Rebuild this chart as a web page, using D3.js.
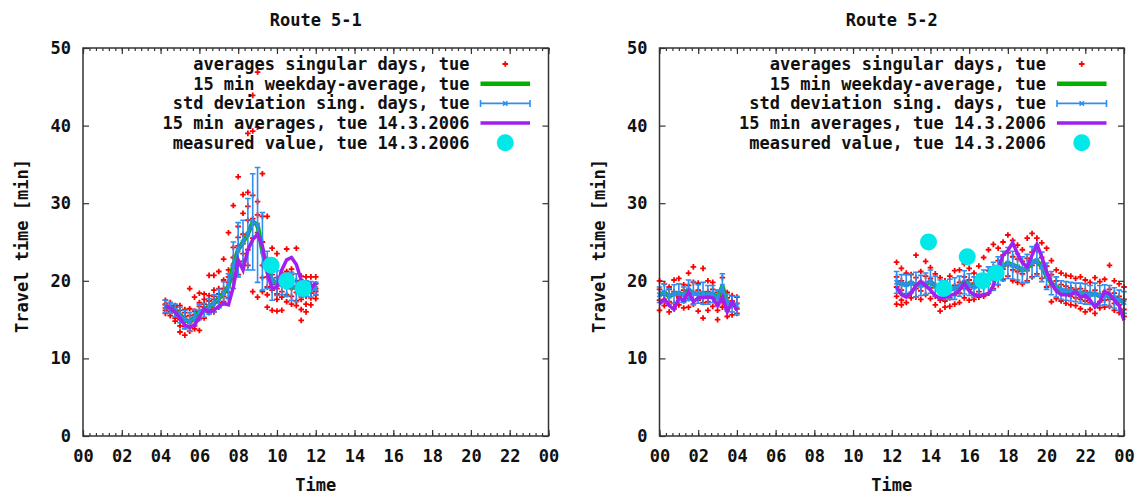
<!DOCTYPE html>
<html>
<head>
<meta charset="utf-8">
<script src="https://cdn.jsdelivr.net/npm/d3@7"></script>
<style>
  body { margin: 0; background: #fff; }
  text { font-family: "DejaVu Sans Mono", "Liberation Mono", monospace; font-weight: bold; fill: #111; }
</style>
</head>
<body>
<script>
let w = 1141;
let h = 495;
let plotTop = 48;
let plotBottom = 436;

// axis ticks
let xTickHours = [0, 2, 4, 6, 8, 10, 12, 14, 16, 18, 20, 22, 24];
let xTickLabels = ["00", "02", "04", "06", "08", "10", "12", "14", "16", "18", "20", "22", "00"];
let yTicks = [0, 10, 20, 30, 40, 50];

let legendLabels = [
  "averages singular days, tue",
  "15 min weekday-average, tue",
  "std deviation sing. days, tue",
  "15 min averages, tue 14.3.2006",
  "measured value, tue 14.3.2006"
];

// ---------- Route 5-1 ----------
let hoursR1 = [4.25, 4.5, 4.75, 5, 5.25, 5.5, 5.75, 6, 6.25, 6.5, 6.75, 7, 7.25, 7.5, 7.75, 8,
  8.25, 8.5, 8.75, 9, 9.25, 9.5, 9.75, 10, 10.25, 10.5, 10.75, 11, 11.25, 11.5, 11.75, 12];
let weekdayAvgR1 = [16.7, 16.5, 16.2, 15.6, 15.0, 14.7, 15.3, 16.0, 16.2, 16.7, 17.1, 17.7, 18.4, 19.3, 22.0, 24.0,
  25.0, 26.0, 27.6, 27.2, 23.8, 21.4, 20.1, 19.7, 19.5, 19.2, 19.3, 19.1, 19.0, 19.0, 18.9, 19.0];
let stdDevR1 = [0.8, 0.7, 0.8, 1.0, 1.2, 1.2, 1.0, 1.0, 0.9, 1.0, 1.1, 1.2, 1.5, 1.6, 3.0, 3.5,
  2.8, 4.6, 6.2, 7.4, 5.0, 2.4, 2.6, 1.6, 1.3, 1.2, 1.8, 1.8, 1.1, 1.0, 1.0, 0.8];
let day14R1 = [16.7, 16.5, 16.0, 15.2, 14.3, 14.0, 14.3, 15.3, 16.4, 16.0, 16.2, 16.7, 17.1, 16.9, 19.2, 22.7,
  21.4, 24.0, 25.3, 26.0, 24.5, 21.0, 19.0, 19.2, 21.4, 22.7, 23.0, 22.1, 20.1, 19.5, 19.0, 19.7];
let singleDaysR1 = [
  [17.5, 16.9, 16.5, 16.2, 15.8, 17.0], [16.0, 16.8, 17.2, 16.3, 15.5, 16.6], [16.6, 15.9, 15.2, 16.8, 14.8, 16.2],
  [13.4, 15.0, 16.2, 15.6, 14.2, 16.8], [13.0, 14.1, 15.4, 16.3, 14.8, 15.9], [19.0, 13.5, 14.6, 15.5, 14.0, 16.4],
  [17.9, 14.2, 15.0, 16.1, 13.8, 15.6], [13.6, 18.4, 15.8, 16.7, 15.1, 17.2], [18.3, 16.0, 17.0, 15.2, 16.6, 17.6],
  [20.7, 16.3, 17.4, 15.9, 16.9, 18.1], [20.7, 17.6, 16.5, 18.0, 16.0, 18.8], [21.2, 17.2, 18.3, 16.6, 17.9, 19.0],
  [22.8, 18.0, 19.0, 17.3, 18.6, 20.1], [26.2, 19.8, 18.5, 20.5, 17.8, 21.4], [29.7, 21.0, 23.0, 20.2, 22.0, 24.3],
  [33.4, 24.5, 22.0, 25.6, 20.8, 27.0], [31.1, 28.7, 23.5, 26.0, 22.5, 24.8], [31.4, 39.0, 27.8, 24.0, 22.0, 29.6],
  [43.9, 39.3, 28.0, 18.6, 25.5, 31.0], [46.9, 39.8, 28.5, 17.9, 26.2, 30.2], [33.8, 18.6, 25.0, 28.3, 22.0, 20.4],
  [28.3, 20.5, 19.2, 22.8, 18.2, 16.6], [24.2, 16.2, 20.8, 19.5, 18.8, 21.6], [23.5, 19.0, 20.4, 18.3, 17.6, 16.1],
  [16.2, 19.8, 21.0, 18.6, 17.9, 20.3], [24.1, 18.2, 19.6, 20.5, 17.3, 21.2], [19.0, 20.8, 18.0, 17.0, 21.5, 19.7],
  [24.2, 18.5, 17.4, 20.0, 19.2, 16.8], [14.9, 19.6, 18.1, 20.6, 17.6, 16.3], [20.5, 18.0, 19.3, 17.0, 16.0, 18.7],
  [20.5, 18.4, 19.5, 17.8, 16.9, 19.1], [20.5, 19.0, 18.2, 19.6, 17.7, 18.6]
];
let measuredR1 = [[9.7, 22.0], [10.5, 20.0], [11.35, 19.0]];

// ---------- Route 5-2 (night part and afternoon part) ----------
let hoursR2a = [0, 0.25, 0.5, 0.75, 1, 1.25, 1.5, 1.75, 2, 2.25, 2.5, 2.75, 3, 3.25, 3.5, 3.75, 4];
let weekdayAvgR2a = [18.2, 18.5, 18.0, 18.3, 18.4, 18.2, 18.8, 18.4, 18.3, 18.4, 18.2, 18.3, 17.8, 19.3, 17.2, 17.0, 16.8];
let stdDevR2a = [1.0, 1.1, 1.0, 1.2, 1.2, 1.0, 1.3, 1.5, 1.2, 1.4, 1.2, 1.1, 1.0, 1.6, 1.1, 1.0, 1.2];
let day14R2a = [17.0, 17.6, 16.8, 16.3, 17.8, 17.5, 18.6, 17.3, 17.8, 17.8, 17.9, 17.8, 16.8, 17.9, 16.0, 17.3, 16.2];
let singleDaysR2a = [
  [20.0, 18.9, 17.5, 16.2], [19.6, 18.2, 16.8, 17.6], [18.9, 17.3, 16.0, 19.2], [20.1, 18.6, 17.1, 16.4],
  [20.3, 18.0, 16.9, 17.8], [19.5, 17.4, 18.8, 16.5], [21.0, 19.4, 17.7, 16.6], [21.8, 18.5, 17.0, 19.8],
  [19.7, 18.8, 16.1, 17.5], [21.6, 18.1, 15.2, 17.2], [20.0, 18.6, 17.3, 16.2], [19.8, 17.9, 16.7, 18.9],
  [18.5, 17.0, 15.0, 16.2], [20.4, 18.0, 16.6, 17.3], [17.8, 16.3, 15.4, 18.5], [18.1, 16.8, 15.6, 17.4],
  [17.9, 16.4, 15.8, 17.1]
];

let hoursR2b = [12.25, 12.5, 12.75, 13, 13.25, 13.5, 13.75, 14, 14.25, 14.5, 14.75, 15, 15.25, 15.5, 15.75, 16,
  16.25, 16.5, 16.75, 17, 17.25, 17.5, 17.75, 18, 18.25, 18.5, 18.75, 19, 19.25, 19.5, 19.75, 20,
  20.25, 20.5, 20.75, 21, 21.25, 21.5, 21.75, 22, 22.25, 22.5, 22.75, 23, 23.25, 23.5, 23.75, 24];
let weekdayAvgR2b = [19.8, 19.6, 19.5, 19.7, 19.5, 19.4, 19.6, 19.9, 19.3, 18.9, 18.8, 18.9, 19.0, 19.3, 19.8, 19.5,
  19.2, 19.4, 19.8, 20.1, 20.6, 21.3, 21.9, 22.3, 22.0, 21.8, 21.4, 21.6, 22.4, 22.6, 21.8, 20.6,
  19.7, 19.2, 18.8, 18.7, 18.6, 18.5, 18.4, 18.3, 18.2, 18.3, 18.1, 18.2, 18.0, 17.8, 17.5, 17.2];
let stdDevR2b = [1.4, 1.2, 1.3, 1.2, 1.6, 1.3, 1.4, 1.5, 1.3, 1.2, 1.2, 1.3, 1.4, 1.3, 1.5, 1.4,
  1.3, 1.4, 1.6, 1.7, 1.8, 1.8, 1.9, 2.0, 1.8, 1.7, 1.7, 1.8, 2.0, 2.0, 1.9, 1.7,
  1.5, 1.3, 1.2, 1.2, 1.2, 1.2, 1.3, 1.3, 1.2, 1.4, 1.3, 1.3, 1.4, 1.3, 1.3, 1.4];
let day14R2b = [19.2, 18.2, 17.9, 18.4, 19.4, 19.9, 19.4, 18.8, 18.1, 17.7, 17.9, 18.1, 18.3, 18.8, 19.7, 18.7,
  18.2, 18.1, 18.2, 18.3, 19.4, 21.4, 23.3, 23.9, 24.9, 23.5, 22.3, 21.8, 23.3, 24.7, 23.1, 21.2,
  19.7, 18.7, 18.2, 18.2, 18.2, 18.6, 17.9, 18.1, 17.5, 16.6, 17.3, 18.6, 18.3, 17.5, 16.8, 14.9];
let singleDaysR2b = [
  [22.4, 20.5, 19.2, 18.0, 17.0], [21.6, 20.0, 18.8, 17.5, 16.9], [21.0, 19.6, 18.3, 17.2], [20.8, 19.8, 18.5, 17.8],
  [23.3, 20.4, 19.0, 17.9], [21.2, 19.9, 18.7, 17.6], [22.5, 20.6, 19.3, 18.2], [21.7, 20.3, 19.1, 17.7],
  [20.9, 19.5, 18.0, 16.9], [20.4, 18.9, 17.5, 16.1], [20.0, 18.6, 17.4, 16.6], [20.6, 19.1, 17.8, 16.7],
  [21.3, 19.4, 18.2, 17.0], [21.4, 19.8, 18.4, 17.2], [22.2, 20.5, 19.0, 17.8], [21.6, 20.1, 18.9, 17.5],
  [21.0, 19.7, 18.3, 17.6], [21.9, 20.2, 18.6, 17.9], [23.0, 20.6, 19.2, 18.0], [24.0, 21.3, 19.6, 18.4],
  [24.7, 21.8, 20.2, 19.0], [24.2, 22.6, 20.8, 19.5], [25.0, 23.3, 21.5, 20.2], [25.9, 23.6, 22.0, 20.6],
  [25.2, 23.1, 21.4, 20.0], [24.6, 22.8, 21.2, 19.8], [24.0, 22.5, 20.9, 19.6], [25.5, 22.9, 21.3, 20.0],
  [26.1, 23.7, 22.0, 20.5], [25.5, 23.9, 22.3, 20.9], [24.9, 23.0, 21.6, 20.3], [24.2, 21.9, 20.5, 19.2],
  [22.6, 20.8, 19.4, 17.3], [21.4, 20.0, 18.9, 17.7], [21.0, 19.5, 18.4, 17.4], [20.7, 19.3, 18.2, 17.1],
  [20.6, 19.1, 18.0, 16.9], [20.3, 18.9, 17.8, 16.8], [20.5, 19.0, 17.6, 16.4], [20.1, 18.7, 17.4, 16.0],
  [19.8, 18.5, 17.2, 16.3], [20.4, 18.8, 17.0, 15.8], [19.9, 18.3, 17.3, 16.5], [20.2, 18.6, 17.5, 16.6],
  [22.0, 18.9, 17.6, 16.7], [20.0, 18.4, 17.1, 16.2], [19.6, 18.0, 16.9, 15.9], [19.2, 17.6, 16.3, 15.4]
];
let measuredR2 = [[13.9, 25.0], [14.7, 19.0], [15.9, 23.1], [16.7, 20.0], [17.4, 21.0]];

// colours
let cRed = "#ff0000";
let cGreen = "#00b000";
let cBlue = "#2f8ff0";
let cPurple = "#a020f0";
let cCyan = "#00e8e8";
let cFrame = "#333";

let panels = [
  {
    title: "Route 5-1", x0: 83, x1: 548.5,
    segments: [{ hours: hoursR1, avg: weekdayAvgR1, std: stdDevR1, day: day14R1, singles: singleDaysR1 }],
    measured: measuredR1
  },
  {
    title: "Route 5-2", x0: 659.5, x1: 1124,
    segments: [
      { hours: hoursR2a, avg: weekdayAvgR2a, std: stdDevR2a, day: day14R2a, singles: singleDaysR2a },
      { hours: hoursR2b, avg: weekdayAvgR2b, std: stdDevR2b, day: day14R2b, singles: singleDaysR2b }
    ],
    measured: measuredR2
  }
];

let minorHours = [];
for (let m = 0; m <= 24 * 60; m += 20) minorHours.push(m / 60);

let svg = d3.select("body")
  .append("svg")
  .attr("width", w)
  .attr("height", h);

let plusPath = "M-2.8,0H2.8M0,-2.8V2.8";
let crossPath = "M-2.2,-2.2L2.2,2.2M-2.2,2.2L2.2,-2.2";

function styleAxis(sel) {
  sel.select(".domain").remove();
  sel.selectAll("line").attr("stroke", cFrame).attr("stroke-width", 1.2);
  sel.selectAll("text")
    .attr("font-size", "17px")
    .attr("font-family", null)
    .attr("fill", "#111");
}

function drawPanel(p) {
  let xScale = d3.scaleLinear().domain([0, 24]).range([p.x0, p.x1]);
  let yScale = d3.scaleLinear().domain([0, 50]).range([plotBottom, plotTop]);
  let g = svg.append("g");
  let cx = (p.x0 + p.x1) / 2;

  g.append("text")
    .attr("x", cx).attr("y", 20)
    .attr("text-anchor", "middle").attr("dominant-baseline", "central")
    .attr("font-size", "17px")
    .text(p.title);

  // minor ticks (bottom + top)
  g.append("g")
    .attr("transform", "translate(0," + plotBottom + ")")
    .call(d3.axisBottom(xScale).tickValues(minorHours).tickSize(-3).tickFormat(""))
    .call(styleAxis);
  g.append("g")
    .attr("transform", "translate(0," + plotTop + ")")
    .call(d3.axisTop(xScale).tickValues(minorHours).tickSize(-3).tickFormat(""))
    .call(styleAxis);

  // major ticks
  g.append("g")
    .attr("transform", "translate(0," + plotBottom + ")")
    .call(d3.axisBottom(xScale).tickValues(xTickHours).tickSize(-6).tickPadding(14)
      .tickFormat((d, i) => xTickLabels[i]))
    .call(styleAxis);
  g.append("g")
    .attr("transform", "translate(0," + plotTop + ")")
    .call(d3.axisTop(xScale).tickValues(xTickHours).tickSize(-6).tickFormat(""))
    .call(styleAxis);
  g.append("g")
    .attr("transform", "translate(" + p.x0 + ",0)")
    .call(d3.axisLeft(yScale).tickValues(yTicks).tickSize(-6).tickPadding(12))
    .call(styleAxis);
  g.append("g")
    .attr("transform", "translate(" + p.x1 + ",0)")
    .call(d3.axisRight(yScale).tickValues(yTicks).tickSize(-6).tickFormat(""))
    .call(styleAxis);

  // axis titles
  g.append("text")
    .attr("transform", "translate(" + (p.x0 - 61) + ",246) rotate(-90)")
    .attr("text-anchor", "middle").attr("dominant-baseline", "central")
    .attr("font-size", "17px")
    .text("Travel time [min]");
  g.append("text")
    .attr("x", cx).attr("y", 485)
    .attr("text-anchor", "middle").attr("dominant-baseline", "central")
    .attr("font-size", "17px")
    .text("Time");

  let plot = g.append("g");

  p.segments.forEach((seg) => {
    // singular days
    let pts = [];
    seg.singles.forEach((vals, i) => {
      vals.forEach((v) => { pts.push([seg.hours[i], v]); });
    });
    plot.append("g").selectAll("path")
      .data(pts)
      .enter()
      .append("path")
      .attr("d", plusPath)
      .attr("transform", (d) => "translate(" + xScale(d[0]) + "," + yScale(d[1]) + ")")
      .attr("stroke", cRed)
      .attr("stroke-width", 1.8);

    let idx = seg.hours.map((d, i) => i);

    // weekday average
    plot.append("path")
      .datum(idx)
      .attr("fill", "none")
      .attr("stroke", cGreen)
      .attr("stroke-width", 4.5)
      .attr("stroke-linejoin", "round")
      .attr("d", d3.line()
        .x((i) => xScale(seg.hours[i]))
        .y((i) => yScale(seg.avg[i])));

    // std deviation: line + error bars + markers
    let blue = plot.append("g")
      .attr("stroke", cBlue)
      .attr("stroke-width", 1.6)
      .attr("fill", "none");
    blue.append("path")
      .datum(idx)
      .attr("d", d3.line()
        .x((i) => xScale(seg.hours[i]))
        .y((i) => yScale(seg.avg[i])));
    let bars = blue.selectAll("g.bar")
      .data(idx)
      .enter()
      .append("g")
      .attr("class", "bar");
    bars.append("path")
      .attr("d", (i) => {
        let bx = xScale(seg.hours[i]);
        let lo = yScale(seg.avg[i] - seg.std[i]);
        let hi = yScale(seg.avg[i] + seg.std[i]);
        return "M" + bx + "," + lo + "V" + hi +
          "M" + (bx - 2.8) + "," + lo + "H" + (bx + 2.8) +
          "M" + (bx - 2.8) + "," + hi + "H" + (bx + 2.8);
      });
    bars.append("path")
      .attr("d", crossPath)
      .attr("transform", (i) => "translate(" + xScale(seg.hours[i]) + "," + yScale(seg.avg[i]) + ")");

    // 14.3.2006 averages
    plot.append("path")
      .datum(idx)
      .attr("fill", "none")
      .attr("stroke", cPurple)
      .attr("stroke-width", 3.5)
      .attr("stroke-linejoin", "miter")
      .attr("d", d3.line()
        .x((i) => xScale(seg.hours[i]))
        .y((i) => yScale(seg.day[i])));
  });

  // measured values
  plot.append("g").selectAll("circle")
    .data(p.measured)
    .enter()
    .append("circle")
    .attr("cx", (d) => xScale(d[0]))
    .attr("cy", (d) => yScale(d[1]))
    .attr("r", 8.5)
    .attr("fill", cCyan);

  // legend
  let lg = g.append("g");
  let textRight = p.x0 + 386.5;
  let s0 = p.x0 + 397.5;
  let s1 = p.x0 + 447;
  let sm = (s0 + s1) / 2;
  legendLabels.forEach((label, i) => {
    let ly = 64 + i * 19.7;
    lg.append("text")
      .attr("x", textRight).attr("y", ly)
      .attr("text-anchor", "end").attr("dominant-baseline", "central")
      .attr("font-size", "17px")
      .text(label);
    if (i === 0) {
      lg.append("path").attr("d", plusPath)
        .attr("transform", "translate(" + sm + "," + ly + ")")
        .attr("stroke", cRed).attr("stroke-width", 1.8);
    } else if (i === 1) {
      lg.append("line").attr("x1", s0).attr("x2", s1).attr("y1", ly).attr("y2", ly)
        .attr("stroke", cGreen).attr("stroke-width", 4.5);
    } else if (i === 2) {
      lg.append("path")
        .attr("d", "M" + s0 + "," + ly + "H" + s1 +
          "M" + s0 + "," + (ly - 3.5) + "V" + (ly + 3.5) +
          "M" + s1 + "," + (ly - 3.5) + "V" + (ly + 3.5))
        .attr("stroke", cBlue).attr("stroke-width", 1.6).attr("fill", "none");
      lg.append("path").attr("d", crossPath)
        .attr("transform", "translate(" + sm + "," + ly + ")")
        .attr("stroke", cBlue).attr("stroke-width", 1.6);
    } else if (i === 3) {
      lg.append("line").attr("x1", s0).attr("x2", s1).attr("y1", ly).attr("y2", ly)
        .attr("stroke", cPurple).attr("stroke-width", 3.5);
    } else {
      lg.append("circle").attr("cx", sm).attr("cy", ly).attr("r", 8.5).attr("fill", cCyan);
    }
  });

  // frame
  g.append("rect")
    .attr("x", p.x0).attr("y", plotTop)
    .attr("width", p.x1 - p.x0).attr("height", plotBottom - plotTop)
    .attr("fill", "none")
    .attr("stroke", cFrame)
    .attr("stroke-width", 1.5);
}

panels.forEach(drawPanel);
</script>
</body>
</html>
